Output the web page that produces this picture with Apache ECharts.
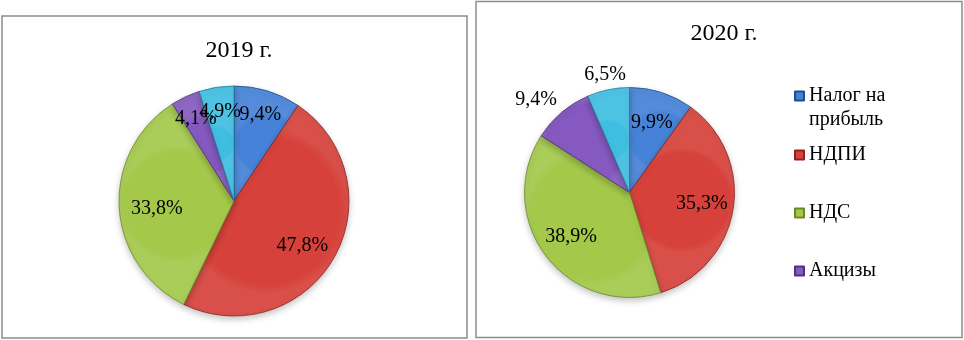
<!DOCTYPE html>
<html>
<head>
<meta charset="utf-8">
<script src="https://cdn.jsdelivr.net/npm/echarts@6/dist/echarts.min.js"></script>
<style>
html,body{margin:0;padding:0;background:#fff;}
#c{width:964px;height:340px;}
</style>
</head>
<body>
<div id="c"></div>
<script>
// ---- data ----
const categories = ['Налог на прибыль', 'НДПИ', 'НДС', 'Акцизы', 'Прочие'];
const legendNames = ['Налог на прибыль', 'НДПИ', 'НДС', 'Акцизы'];
const titles = ['2019 г.', '2020 г.'];
const values2019 = [9.4, 47.8, 33.8, 4.1, 4.9];
const values2020 = [9.9, 35.3, 38.9, 9.4, 6.5];

// ---- styles ----
const FONT = 'Liberation Serif';
const colors = ['#4683d8', '#d6413b', '#a3c84a', '#8559bf', '#40bee2'];
const borders = ['#1f4f8f', '#8a2420', '#6a8a25', '#4f3280', '#1f7e9e'];

function fmt(v) { return v.toFixed(1).replace('.', ',') + '%'; }

function pieData(vals) {
  return vals.map((v, i) => ({
    name: categories[i], value: v,
    itemStyle: {
      color: {
        type: 'radial', x: 0.5, y: 0.5, r: 0.5,
        colorStops: [{offset: 0, color: colors[i]}, {offset: 0.88, color: colors[i]}, {offset: 1, color: echarts.color.lift(colors[i], 0.08)}]
      },
      borderColor: borders[i]
    }
  }));
}

function mainPie(vals, cx, cy, R) {
  return {
    type: 'pie', center: [cx, cy], radius: [0, R], startAngle: 90, clockwise: true,
    silent: true, animation: false,
    itemStyle: {borderWidth: 0.8, shadowBlur: 6, shadowOffsetY: 3, shadowColor: 'rgba(0,0,0,0.22)'},
    label: {show: false}, labelLine: {show: false},
    data: pieData(vals)
  };
}

function labelPie(vals, cx, cy, r0, r1, showIdx, offsets) {
  return {
    type: 'pie', center: [cx, cy], radius: [r0, r1], startAngle: 90, clockwise: true,
    silent: true, animation: false, legendHoverLink: false,
    avoidLabelOverlap: false,
    labelLayout: {hideOverlap: false},
    itemStyle: {color: 'rgba(0,0,0,0)', borderWidth: 0},
    label: {
      show: true, position: 'inside', color: '#000', fontFamily: FONT, fontSize: 20,
      formatter: p => (showIdx.indexOf(p.dataIndex) >= 0 ? fmt(p.value) : '')
    },
    labelLine: {show: false},
    emphasis: {disabled: true},
    data: vals.map((v, i) => {
      const d = {name: categories[i], value: v};
      if (offsets && offsets[i]) d.label = {offset: offsets[i]};
      return d;
    })
  };
}

const R1 = 115, C1 = [234, 201];
const R2 = 105, C2 = [629.5, 192.5];

const legendTops = [96, 155, 213, 271];
const legends = legendNames.map((n, i) => ({
  data: [n], left: 794, top: i === 0 ? legendTops[i] - 36 : legendTops[i] - 12,
  orient: 'vertical', selectedMode: false, padding: 0,
  itemWidth: 9, itemHeight: 9, itemGap: 5,
  icon: 'rect',
  formatter: name => name === 'Налог на прибыль' ? '{a| }\n{a|Налог на}\n{a|прибыль}' : '{a|' + name + '}',
  textStyle: {
    fontFamily: FONT, fontSize: 20, color: '#000', lineHeight: 24,
    rich: {a: {fontFamily: FONT, fontSize: 20, color: '#000', lineHeight: 24}}
  }
}));

const option = {
  backgroundColor: '#fff',
  animation: false,
  title: [
    {text: titles[0], left: 234, top: 34, textAlign: 'center',
     textStyle: {fontFamily: FONT, fontSize: 24, fontWeight: 'normal', color: '#000'}},
    {text: titles[1], left: 719, top: 17, textAlign: 'center',
     textStyle: {fontFamily: FONT, fontSize: 24, fontWeight: 'normal', color: '#000'}}
  ],
  legend: legends,
  graphic: [
    {type: 'rect', shape: {x: 2, y: 16, width: 465, height: 322}, style: {fill: 'none', stroke: '#8c8c8c', lineWidth: 1.5}, silent: true, z: -1},
    {type: 'rect', shape: {x: 476, y: 1.5, width: 486, height: 336}, style: {fill: 'none', stroke: '#8c8c8c', lineWidth: 1.5}, silent: true, z: -1}
  ],
  series: [
    mainPie(values2019, C1[0], C1[1], R1),
    mainPie(values2020, C2[0], C2[1], R2),
    labelPie(values2019, C1[0], C1[1], R1 * 0.52, R1, [0, 3, 4]),
    labelPie(values2019, C1[0], C1[1], R1 * 0.36, R1, [1, 2], {1: [-2, 4], 2: [4, 3]}),
    labelPie(values2020, C2[0], C2[1], R2 * 0.34, R2, [0, 1, 2]),
    labelPie(values2020, C2[0], C2[1], R2 * 1.0, R2 * 1.24, [4]),
    labelPie(values2020, C2[0], C2[1], R2 * 1.0, R2 * 1.4, [3], {3: [-10, 6]})
  ]
};

const chart = echarts.init(document.getElementById('c'), null, {renderer: 'canvas'});
chart.setOption(option);
</script>
</body>
</html>
